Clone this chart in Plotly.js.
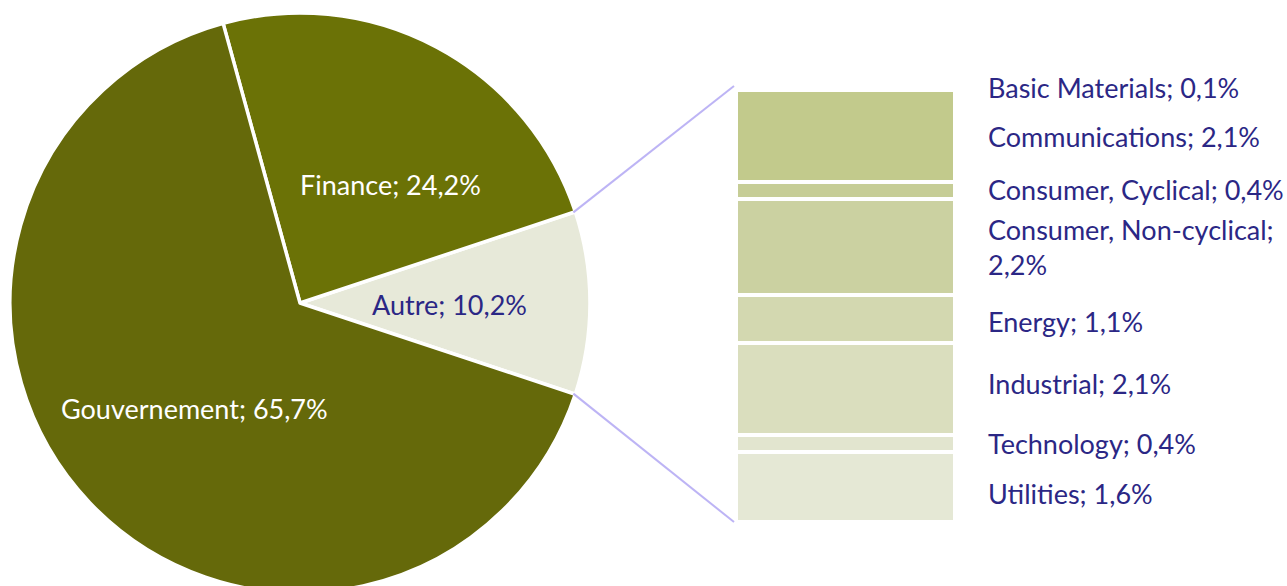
<!DOCTYPE html>
<html><head><meta charset="utf-8">
<script src="https://cdn.plot.ly/plotly-3.0.1.min.js"></script>
<style>html,body{margin:0;padding:0;overflow:hidden;background:#fff}</style>
</head><body><div id="chart" style="width:1287px;height:600px"></div>
<script>
// ---- data ----
const pieLabels = ["Autre", "Finance", "Gouvernement"];
const pieValues = [10.2, 24.2, 65.7];
const subLabels = ["Basic Materials", "Communications", "Consumer, Cyclical", "Consumer, Non-cyclical;<br>", "Energy", "Industrial", "Technology", "Utilities"];
const subValues = [0.1, 2.1, 0.4, 2.2, 1.1, 2.1, 0.4, 1.6];

// ---- style ----
const pieColors = ["#e7e9d9", "#6b7206", "#65690a"];
const pieTextColors = ["#2b2785", "#ffffff", "#ffffff"];
const pieLabelAngleShift = [-0.5, -9.4, 1.5];
const subColors = ["#f3f4e8", "#c2ca8c", "#c6cd96", "#cbd1a1", "#d3d8b0", "#dadebe", "#e2e5cf", "#e5e8d5"];
const subLabelYShift = [1, 0, 1, 0, -2, 6, 0, -6];
const navy = "#2b2785";
const FONT = "Lato, 'Open Sans', sans-serif";
const FS = 27;

const W = 1287, H = 600;
const cx = 300, cy = 303, R = 290;
const barX0 = 736, barX1 = 955, barY0 = 86, barY1 = 522;

function fmt(v) { return v.toFixed(1).replace('.', ',') + '%'; }

const pieTotal = pieValues.reduce((a, b) => a + b, 0);
const subTotal = subValues.reduce((a, b) => a + b, 0);
const autreDeg = pieValues[0] / pieTotal * 360;

const traces = [];
traces.push({
  type: 'pie', labels: pieLabels, values: pieValues, sort: false,
  direction: 'counterclockwise', rotation: 90 - autreDeg / 2,
  marker: {colors: pieColors, line: {color: '#ffffff', width: 3.5}},
  textinfo: 'none', hoverinfo: 'skip',
  domain: {x: [(cx - R) / W, (cx + R) / W], y: [Math.max(0, (H - (cy + R)) / H), (H - (cy - R)) / H]}
});

// stacked bar, bottom to top = reversed order
for (let i = subValues.length - 1; i >= 0; i--) {
  traces.push({
    type: 'bar', x: [0], y: [subValues[i]], width: 1, xaxis: 'x', yaxis: 'y',
    marker: {color: subColors[i], line: {color: '#ffffff', width: 4}},
    hoverinfo: 'skip'
  });
}

const annotations = [];
// pie labels
let a0 = -autreDeg / 2;
pieValues.forEach((v, i) => {
  const span = v / pieTotal * 360;
  const mid = (a0 + span / 2 + pieLabelAngleShift[i]) * Math.PI / 180;
  a0 += span;
  const rr = 0.514 * R;
  const px = cx + rr * Math.cos(mid), py = cy - rr * Math.sin(mid);
  annotations.push({
    xref: 'paper', yref: 'paper', x: px / W, y: (H - py) / H,
    xanchor: 'center', yanchor: 'middle', showarrow: false,
    text: pieLabels[i] + '; ' + fmt(v),
    font: {family: FONT, size: FS, color: pieTextColors[i]}
  });
});

// bar labels
let cum = subTotal;
subValues.forEach((v, i) => {
  const c = cum - v / 2;
  cum -= v;
  const lab = subLabels[i].endsWith('<br>') ? subLabels[i] + fmt(v) : subLabels[i] + '; ' + fmt(v);
  annotations.push({
    xref: 'x', yref: 'y', x: 0.5, y: c, xshift: 31, yshift: subLabelYShift[i],
    xanchor: 'left', yanchor: 'middle', align: 'left', showarrow: false,
    text: lab, font: {family: FONT, size: FS, color: navy}
  });
});

// connector lines from Autre edges to bar corners
const half = autreDeg / 2 * Math.PI / 180;
const Re = R - 2;
const pTop = [cx + Re * Math.cos(half), cy - Re * Math.sin(half)];
const pBot = [cx + Re * Math.cos(-half), cy - Re * Math.sin(-half)];
const shapes = [
  {type: 'line', xref: 'paper', yref: 'paper', x0: pTop[0] / W, y0: (H - pTop[1]) / H, x1: (barX0 - 2) / W, y1: (H - barY0) / H, line: {color: '#bdb4f5', width: 2}},
  {type: 'line', xref: 'paper', yref: 'paper', x0: pBot[0] / W, y0: (H - pBot[1]) / H, x1: (barX0 - 2) / W, y1: (H - barY1) / H, line: {color: '#bdb4f5', width: 2}}
];

const layout = {
  width: W, height: H, margin: {l: 0, r: 0, t: 0, b: 0},
  paper_bgcolor: '#ffffff', plot_bgcolor: 'rgba(0,0,0,0)',
  showlegend: false, barmode: 'stack',
  xaxis: {domain: [barX0 / W, barX1 / W], range: [-0.5, 0.5], visible: false, fixedrange: true},
  yaxis: {domain: [(H - barY1) / H, (H - barY0) / H], range: [0, subTotal], visible: false, fixedrange: true},
  annotations: annotations, shapes: shapes
};

Plotly.newPlot('chart', traces, layout, {displayModeBar: false, staticPlot: true});
</script>
</body></html>
